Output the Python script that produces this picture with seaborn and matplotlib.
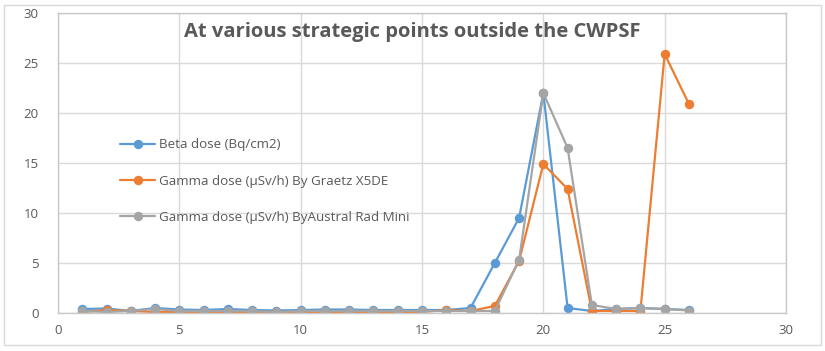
import matplotlib
matplotlib.use("Agg")
import matplotlib.pyplot as plt
import seaborn as sns
import pandas as pd
from matplotlib.patches import Rectangle

x_points = list(range(1, 27))
beta = [0.4, 0.45, 0.2, 0.5, 0.35, 0.3, 0.4, 0.3, 0.25, 0.3, 0.35, 0.35, 0.3,
        0.3, 0.3, 0.3, 0.5, 5.0, 9.5, 22.0, 0.5, 0.2, 0.4, 0.5, 0.4, 0.3]
gamma_graetz = [0.1, 0.3, 0.2, 0.1, 0.1, 0.1, 0.1, 0.1, 0.1, 0.1, 0.1, 0.05, 0.1,
                0.1, 0.1, 0.3, 0.2, 0.7, 5.2, 14.9, 12.4, 0.2, 0.2, 0.2, 25.9, 20.9]
gamma_austral = [0.2, 0.1, 0.2, 0.4, 0.2, 0.2, 0.2, 0.2, 0.1, 0.2, 0.2, 0.2, 0.2,
                 0.2, 0.2, 0.2, 0.2, 0.2, 5.3, 22.0, 16.5, 0.8, 0.4, 0.5, 0.4, 0.25]
series_names = ["Beta dose (Bq/cm2)",
                "Gamma dose (\u00b5Sv/h) By Graetz X5DE",
                "Gamma dose (\u00b5Sv/h) ByAustral Rad Mini"]
colors = ["#5b9bd5", "#ed7d31", "#a5a5a5"]
title = "At various strategic points outside the CWPSF"

sns.set_theme(style="white")
plt.rcParams['font.family'] = ['Open Sans', 'DejaVu Sans']

fig = plt.figure(figsize=(8.25, 3.51), dpi=100)
ax = fig.add_axes([58/825, 1-313/351, (786-58)/825, (313-13)/351])

for name, vals, c in zip(series_names, [beta, gamma_graetz, gamma_austral], colors):
    df = pd.DataFrame({"x": x_points, "y": vals})
    sns.lineplot(data=df, x="x", y="y", ax=ax, color=c, marker="o", markersize=6.8,
                 markeredgewidth=0, linewidth=1.6, label=name)

ax.set_xlim(0, 30)
ax.set_ylim(0, 30)
ax.set_xticks(range(0, 31, 5))
ax.set_yticks(range(0, 31, 5))
ax.grid(True, color="#d9d9d9", linewidth=1)
ax.set_axisbelow(True)
for s in ax.spines.values():
    s.set_visible(True)
    s.set_color("#c8c8c8")
    s.set_linewidth(1)
ax.tick_params(axis="both", length=0, labelsize=9.5, colors="#595959", pad=8)
ax.tick_params(axis="y", pad=14)
ax.set_xlabel("")
ax.set_ylabel("")

fig.text(412/825, 1-32/351, title, ha="center", va="center", fontsize=14.5,
         fontweight="bold", color="#595959")

leg = ax.legend(loc="upper left", bbox_to_anchor=(57/728, 1-120/300), frameon=False,
                fontsize=9.6, labelspacing=1.75, handlelength=2.6, handletextpad=0.3,
                borderaxespad=0)
for t in leg.get_texts():
    t.set_color("#595959")

fig.patches.append(Rectangle((4/825, 6/351), 817/825, 340/351, transform=fig.transFigure,
                             fill=False, edgecolor="#d9d9d9", linewidth=1))

fig.savefig("out.png", dpi=100)
